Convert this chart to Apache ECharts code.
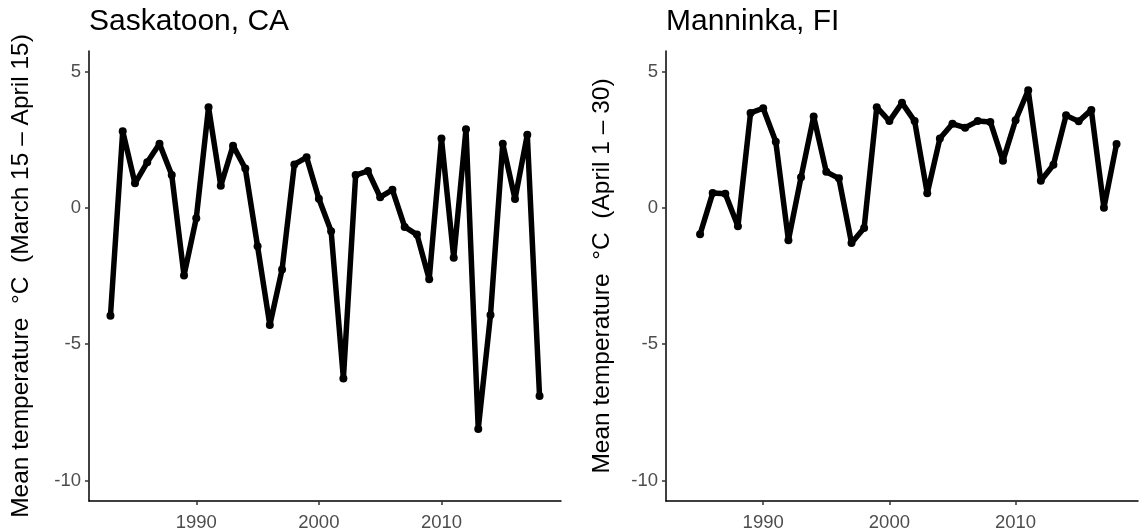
<!DOCTYPE html>
<html>
<head>
<meta charset="utf-8">
<script src="https://cdn.jsdelivr.net/npm/echarts@6/dist/echarts.min.js"></script>
<style>
  html, body { margin: 0; padding: 0; background: #fff; }
  #chart { width: 1143px; height: 532px; }
</style>
</head>
<body>
<div id="chart"></div>
<script>
// Saskatoon, mean temp March 15 - April 15
const yearsSask = [1983, 1984, 1985, 1986, 1987, 1988, 1989, 1990, 1991, 1992, 1993, 1994,
  1995, 1996, 1997, 1998, 1999, 2000, 2001, 2002, 2003, 2004, 2005, 2006,
  2007, 2008, 2009, 2010, 2011, 2012, 2013, 2014, 2015, 2016, 2017, 2018]
const tempsSask = [-3.96, 2.81, 0.90, 1.67, 2.35, 1.20, -2.48, -0.38, 3.69, 0.81, 2.28, 1.44,
  -1.41, -4.30, -2.26, 1.59, 1.85, 0.33, -0.86, -6.26, 1.20, 1.35, 0.39, 0.66,
  -0.70, -0.98, -2.62, 2.54, -1.83, 2.88, -8.11, -3.93, 2.35, 0.32, 2.68, -6.90]

// Manninka, mean temp April 1 - 30
const yearsMann = [1985, 1986, 1987, 1988, 1989, 1990, 1991, 1992, 1993, 1994, 1995,
  1996, 1997, 1998, 1999, 2000, 2001, 2002, 2003, 2004, 2005, 2006, 2007,
  2008, 2009, 2010, 2011, 2012, 2013, 2014, 2015, 2016, 2017, 2018]
const tempsMann = [-0.97, 0.54, 0.52, -0.68, 3.48, 3.65, 2.42, -1.19, 1.12, 3.35, 1.32,
  1.08, -1.29, -0.74, 3.69, 3.18, 3.85, 3.18, 0.53, 2.54, 3.08, 2.94, 3.18,
  3.15, 1.73, 3.21, 4.31, 0.99, 1.58, 3.39, 3.17, 3.59, 0.00, 2.34]

const yTicks = [-10, -5, 0, 5]
const xTicks = [1990, 2000, 2010]

const titles = ['Saskatoon, CA', 'Manninka, FI']
const yNames = ['Mean temperature  °C  (March 15 – April 15)', 'Mean temperature  °C  (April 1 – 30)']

const font = 'Liberation Sans, Arial, sans-serif'

function xAxisOpt(idx, min, max) {
  return {
    type: 'value',
    gridIndex: idx,
    min: min,
    max: max,
    splitLine: { show: false },
    axisLine: { show: true, onZero: false, lineStyle: { color: '#000', width: 1.5 } },
    axisTick: { show: true, length: 4, lineStyle: { color: '#333', width: 1.5 }, customValues: xTicks },
    axisLabel: { color: '#4d4d4d', fontSize: 18.5, fontFamily: font, margin: 12, customValues: xTicks,
      formatter: v => String(v) }
  }
}

function yAxisOpt(idx, name, gap) {
  return {
    type: 'value',
    gridIndex: idx,
    min: -10.75,
    max: 5.75,
    name: name,
    nameLocation: 'middle',
    nameGap: gap,
    nameTextStyle: { color: '#000', fontSize: 24.5, fontFamily: font },
    splitLine: { show: false },
    axisLine: { show: true, onZero: false, lineStyle: { color: '#000', width: 1.5 } },
    axisTick: { show: true, length: 4, lineStyle: { color: '#333', width: 1.5 }, customValues: yTicks },
    axisLabel: { color: '#4d4d4d', fontSize: 18.5, fontFamily: font, margin: 8, customValues: yTicks,
      formatter: v => String(v) }
  }
}

function lineSeries(idx, xs, ys) {
  return {
    type: 'line',
    xAxisIndex: idx,
    yAxisIndex: idx,
    data: xs.map((x, i) => [x, ys[i]]),
    symbol: 'circle',
    symbolSize: 8,
    showSymbol: true,
    itemStyle: { color: '#000' },
    lineStyle: { color: '#000', width: 5.5 },
    animation: false
  }
}

const chart = echarts.init(document.getElementById('chart'))
chart.setOption({
  backgroundColor: '#fff',
  title: [
    { text: titles[0], left: 89, top: 7, padding: 0, textStyle: { color: '#000', fontSize: 30, fontWeight: 'normal', fontFamily: font } },
    { text: titles[1], left: 666, top: 7, padding: 0, textStyle: { color: '#000', fontSize: 30, fontWeight: 'normal', fontFamily: font } }
  ],
  grid: [
    { left: 89, right: 582, top: 51, bottom: 30 },
    { left: 666, right: 5, top: 51, bottom: 30 }
  ],
  xAxis: [xAxisOpt(0, 1981.25, 2019.75), xAxisOpt(1, 1982.3, 2019.7)],
  yAxis: [yAxisOpt(0, yNames[0], 55), yAxisOpt(1, yNames[1], 51)],
  series: [lineSeries(0, yearsSask, tempsSask), lineSeries(1, yearsMann, tempsMann)]
})
</script>
</body>
</html>
